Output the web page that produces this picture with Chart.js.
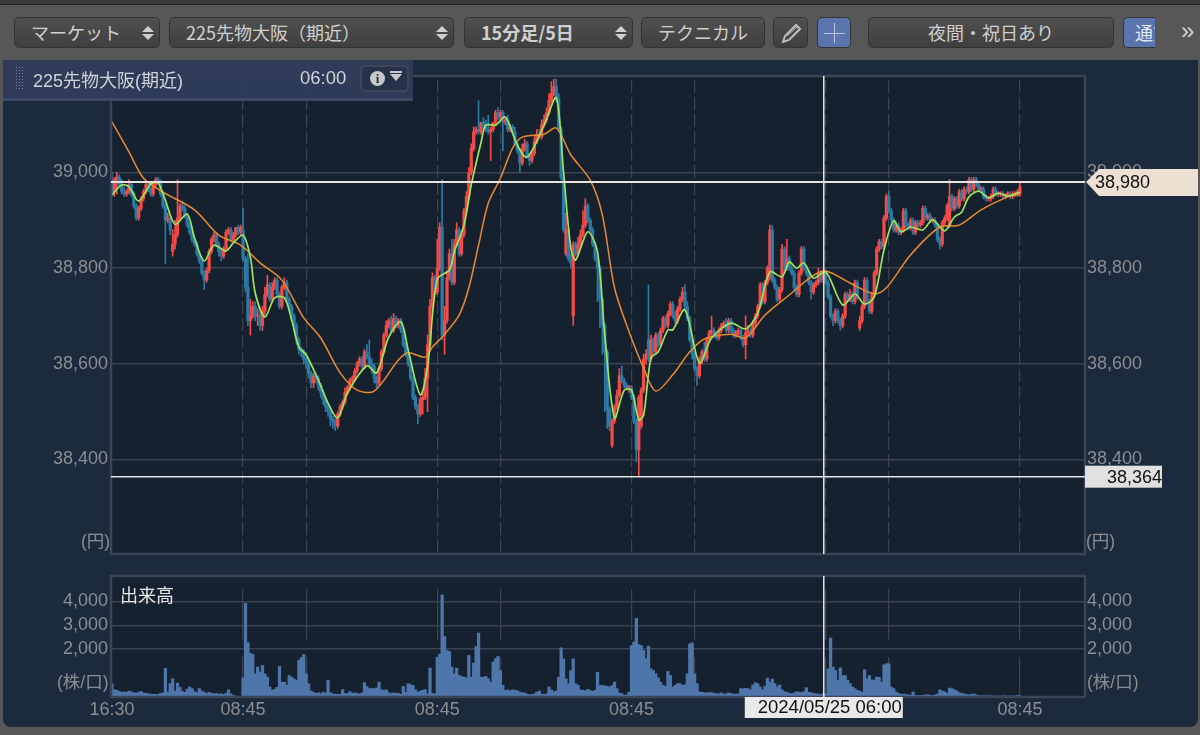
<!DOCTYPE html>
<html lang="ja">
<head>
<meta charset="utf-8">
<title>225先物大阪(期近)</title>
<script src="https://cdn.jsdelivr.net/npm/chart.js@4/dist/chart.umd.min.js"></script>
<style>
  html, body { margin: 0; padding: 0; background: #575757; }
  body { position: relative; width: 1200px; height: 735px; overflow: hidden;
         font-family: "Liberation Sans", "Noto Sans CJK JP", sans-serif; color: #d2d2d2; }
  .topline { position: absolute; left: 0; top: 0; width: 1200px; height: 4px; background: #3c3c3c; border-bottom: 1px solid #222; }
  .panel { position: absolute; left: 3px; top: 60px; width: 1195px; height: 667px; background: #1c2a3e; border-radius: 0 0 8px 8px; }
  canvas { position: absolute; left: 0; }
  #priceChart { top: 60px; }
  #volumeChart { top: 560px; }
  .btn { position: absolute; top: 17px; height: 31px; line-height: 29px; box-sizing: border-box; border: 1px solid #343434;
         border-radius: 5px; background: linear-gradient(#505050, #3f3f3f); font-size: 18px; text-align: center;
         color: #cfcfcf; font-family: "Noto Sans CJK JP", sans-serif; white-space: nowrap; overflow: hidden; }
  .btn.left { text-align: left; padding-left: 16px; }
  .btn.on { background: #5a75ad; color: #e4e8f2; }
  .updown { position: absolute; right: 5px; top: 8px; width: 0; height: 0; border-left: 6px solid transparent; border-right: 6px solid transparent; border-bottom: 6px solid #cfcfcf; }
  .updown::after { content: ""; position: absolute; left: -6px; top: 8px; width: 0; height: 0; border-left: 6px solid transparent; border-right: 6px solid transparent; border-top: 6px solid #cfcfcf; }
  .info { position: absolute; left: 3px; top: 60px; width: 410px; height: 41px; background: rgba(48,60,90,.96); border-bottom: 3px solid #3d4966; box-sizing: border-box; font-size: 18px; color: #cfd2d8; }
  .grip { position: absolute; left: 12px; top: 6px; width: 8px; height: 25px; background-image: radial-gradient(#7a8296 1px, transparent 1px); background-size: 3px 3px; }
  .info .name { position: absolute; left: 30px; top: 6px; }
  .info .time { position: absolute; left: 297px; top: 7px; font-size: 18.5px; }
  .info .menu { position: absolute; left: 357px; top: 5px; width: 49px; height: 27px; box-sizing: border-box; background: #27314c; border: 2px solid #3e4658; border-radius: 5px; }
  .info .i { position: absolute; left: 8px; top: 4px; width: 15px; height: 15px; border-radius: 50%; background: #c9c9c9; color: #27314c; font: bold 13px/15px "Liberation Serif", serif; text-align: center; }
  .info .tri { position: absolute; left: 28px; top: 7px; width: 0; height: 0; border-left: 6px solid transparent; border-right: 6px solid transparent; border-top: 7px solid #c9c9c9; }
  .info .tri::before { content: ""; position: absolute; left: -6px; top: -10px; width: 12px; height: 2px; background: #c9c9c9; }
  .chev { position: absolute; left: 1181px; top: 17px; font-size: 24px; color: #d2d2d2; }
  .axis-note { position: absolute; font-size: 17.5px; color: #8b8d90; }
  .vol-title { position: absolute; left: 120px; top: 581px; font-size: 18px; color: #e8e8e8; font-family: "Noto Sans CJK JP", sans-serif; line-height: 26px; }
  .plusv, .plush { position: absolute; background: #b9c6df; }
  .plusv { left: 16px; top: 5px; width: 1px; height: 20px; }
  .plush { left: 6px; top: 15px; width: 21px; height: 1px; }
</style>
</head>
<body>
<div class="topline"></div>
<div class="btn left" style="left:14px;width:146px">マーケット<span class="updown"></span></div>
<div class="btn left" style="left:169px;width:285px">225先物大阪（期近）<span class="updown"></span></div>
<div class="btn left" style="left:464px;width:169px;font-weight:bold">15分足/5日<span class="updown"></span></div>
<div class="btn" style="left:641px;width:124px">テクニカル</div>
<div class="btn" style="left:773px;width:35px"><svg width="24" height="24" viewBox="0 0 24 24" style="margin-top:3px"><path d="M4 21l2-6L17 4l4 4L10 19z" fill="none" stroke="#bdbdbd" stroke-width="2"/><path d="M8 15L18 6M11 17L20 8" stroke="#bdbdbd"/></svg></div>
<div class="btn on" style="left:817px;width:34px"><span class="plusv"></span><span class="plush"></span></div>
<div class="btn" style="left:868px;width:246px">夜間・祝日あり</div>
<div class="btn on" style="left:1123px;width:32px;border-radius:5px 0 0 5px;border-right:0;text-align:left;padding-left:11px">通貨</div>
<div class="chev">»</div>
<div class="panel"></div>
<canvas id="priceChart" width="1200" height="520"></canvas>
<canvas id="volumeChart" width="1200" height="175"></canvas>
<div class="info">
  <div class="grip"></div>
  <div class="name">225先物大阪(期近)</div>
  <div class="time">06:00</div>
  <div class="menu"><span class="i">i</span><span class="tri"></span></div>
</div>
<div class="axis-note" style="left:81px;top:527px">(円)</div>
<div class="axis-note" style="left:1086px;top:527px">(円)</div>
<div class="axis-note" style="left:57px;top:668px">(株/口)</div>
<div class="axis-note" style="left:1087px;top:668px">(株/口)</div>
<div class="vol-title">出来高</div>
<script>
// 15 minute bars, 5 sessions
const opens = [
  38985,38960,38985,38990,38975,38960,38955,38960,38975,38955,
  38930,38905,38925,38945,38960,38975,38965,38955,38975,38985,
  38980,38955,38930,38900,38905,38835,38850,38870,38905,38930,
  38925,38910,38890,38875,38860,38850,38830,38815,38790,38775,
  38795,38835,38860,38870,38850,38835,38825,38840,38875,38880,
  38860,38870,38885,38875,38880,38820,38760,38690,38700,38720,
  38700,38700,38680,38710,38745,38765,38735,38760,38775,38745,
  38720,38760,38770,38735,38720,38700,38680,38650,38630,38625,
  38610,38600,38580,38560,38575,38570,38555,38540,38525,38510,
  38500,38485,38480,38470,38495,38510,38520,38540,38550,38565,
  38570,38585,38600,38610,38595,38625,38615,38600,38595,38570,
  38560,38590,38625,38660,38680,38690,38670,38695,38680,38690,
  38670,38640,38620,38600,38570,38530,38510,38495,38525,38530,
  38570,38640,38720,38780,38750,38800,38885,38660,38690,38780,
  38830,38770,38850,38880,38830,38870,38920,38950,39000,39050,
  39085,39090,39085,39105,39095,39090,39085,39090,39105,39125,
  39115,39125,39105,39110,39090,39095,39085,39060,39045,39020,
  39050,39060,39035,39025,39040,39065,39080,39075,39100,39110,
  39125,39150,39165,39180,39155,39090,38990,38830,38880,38820,
  38700,38850,38830,38850,38870,38890,38930,38900,38880,38850,
  38820,38800,38735,38680,38625,38505,38430,38480,38510,38535,
  38575,38565,38555,38550,38550,38530,38480,38420,38470,38545,
  38610,38650,38610,38650,38625,38660,38640,38670,38695,38680,
  38705,38725,38700,38690,38715,38735,38750,38720,38695,38650,
  38620,38590,38575,38610,38625,38610,38650,38665,38670,38660,
  38655,38670,38680,38685,38670,38690,38670,38660,38665,38670,
  38655,38640,38665,38670,38660,38685,38700,38720,38765,38730,
  38770,38780,38880,38775,38760,38735,38755,38840,38800,38820,
  38800,38790,38760,38745,38790,38840,38800,38790,38770,38750,
  38765,38770,38790,38775,38790,38770,38740,38700,38690,38710,
  38690,38680,38700,38745,38735,38745,38730,38770,38675,38690,
  38720,38775,38730,38710,38745,38790,38840,38855,38845,38905,
  38950,38920,38900,38880,38890,38875,38880,38920,38890,38885,
  38900,38875,38895,38890,38895,38925,38905,38910,38900,38900,
  38890,38860,38850,38895,38905,38890,38950,38925,38945,38930,
  38960,38945,38965,38960,38985,38965,38985,38975,38965,38965,
  38950,38945,38945,38950,38965,38955,38955,38955,38950,38955,
  38955,38950,38955,38955,38955
];
const highs = [
  39000,38990,39000,38995,38985,38970,38965,38985,38980,38960,
  38935,38930,38950,38965,38980,38980,38970,38980,38990,38990,
  38985,38960,38935,38915,38910,38880,38900,38985,38935,38940,
  38930,38915,38895,38880,38865,38855,38835,38820,38795,38800,
  38840,38865,38875,38875,38855,38840,38845,38880,38885,38885,
  38875,38885,38890,38890,38925,38825,38830,38735,38730,38730,
  38715,38710,38720,38760,38785,38770,38770,38780,38780,38750,
  38765,38780,38775,38740,38725,38705,38685,38655,38635,38630,
  38615,38605,38585,38580,38580,38575,38560,38545,38530,38515,
  38505,38490,38485,38500,38515,38525,38550,38555,38570,38575,
  38590,38605,38615,38615,38630,38640,38650,38610,38600,38575,
  38595,38630,38665,38690,38695,38700,38705,38700,38695,38695,
  38675,38645,38625,38605,38575,38535,38515,38530,38545,38590,
  38660,38735,38790,38785,38860,38895,38985,38720,38795,38840,
  38860,38860,38895,38885,38880,38925,38960,39010,39060,39095,
  39095,39150,39105,39115,39110,39120,39095,39105,39130,39135,
  39130,39130,39115,39120,39100,39100,39095,39065,39050,39060,
  39070,39065,39040,39045,39075,39090,39090,39110,39120,39135,
  39165,39190,39195,39195,39165,39095,38995,38915,38885,38830,
  38855,38855,38865,38880,38920,38945,38935,38905,38885,38855,
  38825,38805,38740,38685,38630,38510,38485,38515,38545,38590,
  38595,38570,38560,38555,38555,38535,38485,38535,38550,38620,
  38630,38765,38660,38655,38665,38665,38675,38700,38700,38710,
  38730,38730,38710,38720,38740,38760,38765,38730,38700,38655,
  38625,38595,38615,38630,38645,38655,38670,38700,38675,38665,
  38675,38685,38690,38695,38695,38695,38675,38670,38675,38675,
  38660,38700,38680,38675,38690,38705,38725,38770,38770,38775,
  38805,38890,38890,38780,38765,38760,38850,38845,38860,38825,
  38805,38795,38765,38795,38845,38845,38805,38795,38775,38770,
  38775,38800,38795,38795,38795,38775,38745,38705,38715,38715,
  38695,38705,38750,38750,38755,38750,38775,38775,38700,38725,
  38780,38780,38735,38750,38795,38845,38860,38860,38910,38955,
  38960,38925,38905,38895,38895,38885,38925,38925,38895,38905,
  38905,38900,38900,38900,38930,38930,38915,38915,38905,38905,
  38895,38865,38900,38910,38935,38985,38955,38950,38950,38965,
  38965,38970,38970,38990,38990,38990,38990,38980,38970,38970,
  38955,38950,38955,38970,38970,38960,38960,38960,38955,38960,
  38960,38960,38960,38965,38980
];
const lows = [
  38950,38950,38955,38970,38955,38950,38950,38955,38950,38925,
  38900,38900,38920,38940,38955,38960,38950,38950,38970,38975,
  38950,38925,38810,38895,38870,38825,38840,38865,38900,38920,
  38905,38885,38870,38855,38845,38825,38810,38785,38755,38770,
  38790,38830,38855,38845,38825,38815,38820,38835,38870,38855,
  38855,38865,38870,38870,38815,38750,38680,38660,38695,38690,
  38680,38670,38670,38700,38740,38730,38730,38755,38740,38715,
  38715,38755,38730,38715,38690,38670,38640,38620,38615,38600,
  38590,38570,38550,38550,38560,38545,38530,38515,38500,38490,
  38470,38465,38460,38465,38490,38505,38515,38535,38545,38560,
  38565,38580,38595,38590,38590,38610,38595,38580,38560,38550,
  38555,38585,38620,38655,38675,38665,38665,38675,38675,38665,
  38635,38615,38595,38565,38525,38505,38475,38490,38495,38525,
  38500,38635,38715,38745,38745,38795,38650,38620,38685,38775,
  38765,38765,38845,38825,38825,38865,38915,38945,38995,39045,
  39080,39080,39080,39090,39085,39080,39025,39085,39100,39110,
  39110,39045,39100,39085,39085,39080,39055,39040,39000,39015,
  39045,39030,39015,39020,39035,39060,39070,39070,39095,39105,
  39120,39145,39160,39150,39085,38985,38875,38825,38815,38800,
  38680,38825,38825,38845,38865,38885,38895,38875,38845,38815,
  38730,38675,38620,38500,38465,38460,38425,38475,38505,38530,
  38560,38550,38545,38540,38525,38475,38395,38364,38465,38540,
  38600,38605,38605,38620,38620,38635,38635,38665,38675,38675,
  38700,38695,38685,38685,38710,38730,38715,38690,38645,38610,
  38585,38555,38570,38600,38605,38605,38645,38660,38655,38650,
  38650,38665,38675,38665,38665,38665,38655,38655,38660,38650,
  38635,38610,38660,38655,38655,38680,38695,38715,38725,38725,
  38765,38775,38770,38755,38730,38730,38750,38795,38795,38795,
  38785,38755,38740,38740,38785,38795,38785,38765,38735,38745,
  38760,38765,38770,38770,38765,38735,38695,38680,38685,38685,
  38670,38675,38695,38730,38730,38725,38725,38735,38670,38685,
  38715,38725,38705,38705,38740,38785,38835,38840,38840,38900,
  38915,38895,38875,38875,38870,38870,38875,38885,38880,38880,
  38870,38870,38885,38885,38890,38900,38900,38895,38895,38885,
  38855,38840,38845,38890,38900,38885,38920,38920,38925,38925,
  38940,38940,38955,38955,38960,38960,38970,38960,38960,38945,
  38940,38940,38940,38945,38950,38950,38950,38945,38945,38950,
  38945,38945,38950,38950,38950
];
const closes = [
  38960,38985,38990,38975,38960,38955,38960,38975,38955,38930,
  38905,38925,38945,38960,38975,38965,38955,38975,38985,38980,
  38955,38930,38900,38905,38880,38850,38870,38905,38930,38925,
  38910,38890,38875,38860,38850,38830,38815,38790,38775,38795,
  38835,38860,38870,38850,38835,38825,38840,38875,38880,38860,
  38870,38885,38875,38885,38820,38760,38690,38700,38720,38700,
  38700,38680,38710,38745,38765,38735,38760,38775,38745,38720,
  38760,38770,38735,38720,38700,38680,38650,38630,38625,38610,
  38600,38580,38560,38575,38570,38555,38540,38525,38510,38500,
  38485,38480,38470,38495,38510,38520,38540,38550,38565,38570,
  38585,38600,38610,38595,38625,38615,38600,38595,38570,38560,
  38590,38625,38660,38680,38690,38670,38695,38680,38690,38670,
  38640,38620,38600,38570,38530,38510,38495,38525,38530,38570,
  38640,38720,38780,38750,38800,38885,38660,38690,38780,38830,
  38770,38850,38880,38830,38870,38920,38950,39000,39050,39085,
  39090,39085,39105,39095,39090,39085,39090,39105,39125,39115,
  39125,39105,39110,39090,39095,39085,39060,39045,39020,39050,
  39060,39035,39025,39040,39065,39080,39075,39100,39110,39125,
  39150,39165,39180,39155,39090,38990,38880,38880,38820,38810,
  38850,38830,38850,38870,38890,38930,38900,38880,38850,38820,
  38800,38735,38680,38625,38505,38470,38480,38510,38535,38575,
  38565,38555,38550,38550,38530,38480,38420,38530,38545,38610,
  38620,38610,38650,38625,38660,38640,38670,38695,38680,38705,
  38725,38700,38690,38715,38735,38750,38720,38695,38650,38620,
  38590,38575,38610,38625,38610,38650,38665,38670,38660,38655,
  38670,38680,38685,38670,38690,38670,38660,38665,38670,38655,
  38640,38665,38670,38660,38685,38700,38720,38765,38730,38770,
  38800,38880,38775,38760,38735,38755,38840,38800,38820,38800,
  38790,38760,38745,38790,38840,38800,38790,38770,38750,38765,
  38770,38790,38775,38790,38770,38740,38700,38690,38710,38690,
  38680,38700,38745,38735,38745,38730,38770,38740,38690,38720,
  38775,38730,38710,38745,38790,38840,38855,38845,38905,38950,
  38920,38900,38880,38890,38875,38880,38920,38890,38885,38900,
  38875,38895,38890,38895,38925,38905,38910,38900,38900,38890,
  38860,38850,38895,38905,38930,38950,38925,38945,38930,38960,
  38945,38965,38960,38985,38965,38985,38975,38965,38965,38950,
  38945,38945,38950,38965,38955,38955,38955,38950,38955,38955,
  38950,38955,38955,38960,38970
];
const volumes = [
  550,300,280,230,200,210,190,250,220,180,
  160,200,230,170,150,130,120,110,110,100,
  150,170,1200,200,560,760,250,580,400,230,
  200,330,420,350,220,180,350,250,200,150,
  190,160,130,150,120,130,110,150,300,130,
  60,40,30,30,800,3920,2270,1830,1780,970,
  1250,1040,1320,970,830,420,280,320,400,1280,
  620,620,500,900,830,760,700,1530,1650,1780,
  970,550,250,200,150,180,140,200,170,700,
  180,130,120,110,110,310,150,140,220,160,
  170,150,130,170,600,430,350,360,340,380,
  625,300,280,300,180,150,170,160,150,120,
  445,200,556,520,485,300,200,240,280,310,
  130,1210,150,130,1670,1800,4280,2530,1950,1900,
  1250,970,1210,900,860,830,800,1740,830,1420,
  2110,2680,830,830,860,760,620,1460,1600,1700,
  1110,490,280,300,250,300,280,260,200,180,
  170,120,100,110,130,200,250,120,110,130,
  420,300,220,250,830,2060,1600,760,560,1110,
  1600,560,490,300,280,250,320,270,240,280,
  1040,490,480,470,450,420,480,625,350,160,
  140,70,90,200,2150,2300,3290,2200,2150,1950,
  1600,2130,1180,1110,970,800,620,490,450,1070,
  900,420,490,560,560,490,520,970,2220,2270,
  970,560,210,200,180,170,190,180,150,140,
  130,170,120,130,170,150,110,130,120,350,
  340,360,350,300,500,600,560,420,300,450,
  790,620,750,560,420,500,300,220,200,150,
  140,170,220,200,180,220,390,200,180,150,
  130,120,100,140,130,1180,2470,1250,1110,700,
  1220,900,900,700,560,420,350,280,250,200,
  1140,760,900,720,700,830,830,620,1350,1390,
  1390,420,350,210,150,110,120,100,90,80,
  210,70,60,60,70,80,100,70,60,80,
  120,300,250,220,150,375,350,300,250,180,
  150,130,100,90,110,130,80,60,50,60,
  50,50,50,40,40,40,40,50,50,40,
  40,50,40,70,60
];

// moving averages, read at the bars where the curve turns
const fastBars = [0,4,7,11,16,19,22,26,31,34,38,42,47,50,54,57,59,63,67,71,74,77,80,85,89,93,97,105,109,114,119,122,127,130,134,139,141,145,148,152,154,158,162,167,171,178,183,186,189,191,196,200,203,207,211,214,217,219,222,225,229,231,236,242,247,255,261,266,271,276,279,282,285,289,294,301,306,310,314,318,322,325,329,334,338,343,347,350,353,357,361,365,369,374];
const fastValues = [38953,38974,38970,38940,38976,38978,38942,38892,38913,38863,38815,38848,38836,38853,38869,38823,38748,38698,38738,38738,38692,38635,38619,38566,38518,38487,38539,38596,38581,38656,38688,38629,38535,38594,38777,38796,38834,38890,38974,39062,39099,39099,39116,39057,39032,39099,39156,39001,38842,38817,38876,38834,38660,38487,38545,38545,38483,38493,38612,38625,38671,38671,38713,38602,38654,38685,38673,38706,38792,38782,38813,38800,38811,38779,38792,38723,38746,38725,38740,38838,38899,38876,38886,38880,38901,38878,38907,38917,38949,38961,38947,38957,38951,38959];
const slowBars = [0,7,13,21,34,44,53,61,70,79,86,94,101,108,118,122,129,132,136,143,147,151,155,160,165,169,178,183,189,197,202,207,213,219,224,231,238,244,255,261,269,280,288,294,304,314,319,329,341,349,358,368,374];
const slowValues = [39106,39043,38988,38959,38922,38869,38848,38811,38775,38696,38654,38581,38545,38543,38608,38623,38614,38635,38656,38702,38759,38848,38936,38988,39051,39074,39080,39093,39037,38984,38911,38759,38667,38591,38543,38577,38625,38652,38662,38654,38702,38748,38782,38794,38769,38746,38759,38828,38886,38890,38922,38947,38955];

const priceTicks = [38400, 38600, 38800, 39000];
const volumeTicks = [2000, 3000, 4000];
const timeSlots = [0, 54, 80, 134, 160, 214, 240, 294, 320, 374];
const timeLabels = ["16:30", "08:45", "", "08:45", "", "08:45", "", "08:45", "", "08:45"];

const periodHigh = 38980;
const periodLow = 38364;
const cursorBar = 293.2;
const cursorLabel = "2024/05/25 06:00";

const RED = "#f44b47", BLUE = "#2b7ba6", GREEN = "#9de35c", ORANGE = "#e98a2c";
const GRID = "#3c4350", FRAME = "#3b4555", TEXT = "#8b8d90", PLOT = "#162130";
const FONT = { family: '"Liberation Sans", sans-serif', size: 18 };
const num = (v) => v.toLocaleString("en-US");

const candleColors = closes.map((c, i) => (c >= opens[i] ? RED : BLUE));

function xAxis(dash, offset, showLabels, height) {
  return {
    type: "linear",
    offset: false,
    min: -0.4,
    max: 400.8,
    afterBuildTicks: (s) => { s.ticks = timeSlots.map((v) => ({ value: v })); },
    afterFit: (s) => { s.height = height; },
    grid: {
      offset: false,
      color: (c) => (c.tick && c.tick.value === 0 ? "transparent" : GRID),
      lineWidth: 1.2,
      drawTicks: false,
    },
    border: { display: false, dash: dash, dashOffset: offset },
    ticks: {
      display: showLabels,
      autoSkip: false,
      maxRotation: 0,
      color: TEXT,
      font: FONT,
      padding: 2,
      callback: (v) => timeLabels[timeSlots.indexOf(v)],
    },
  };
}

function yAxes(min, max, tickValues) {
  const base = {
    type: "linear",
    min: min,
    max: max,
    afterBuildTicks: (s) => { s.ticks = tickValues.map((v) => ({ value: v })); },
    border: { display: false },
    ticks: { color: TEXT, font: FONT, callback: num, autoSkip: false },
  };
  return {
    y: { ...base, position: "left", afterFit: (s) => { s.width = 111; },
         grid: { color: GRID, lineWidth: 1.5, drawTicks: false }, ticks: { ...base.ticks, padding: 3 } },
    yRight: { ...base, position: "right", afterFit: (s) => { s.width = 115; },
         grid: { display: false, drawTicks: false }, ticks: { ...base.ticks, padding: 2 } },
  };
}

// fills the plot and draws its frame and the cross cursor
const plotFrame = {
  id: "plotFrame",
  beforeDraw(chart) {
    const a = chart.chartArea, ctx = chart.ctx;
    ctx.fillStyle = PLOT;
    ctx.fillRect(a.left, a.top, a.width, a.height);
  },
  afterDraw(chart) {
    const a = chart.chartArea, ctx = chart.ctx;
    ctx.save();
    ctx.strokeStyle = FRAME;
    ctx.lineWidth = 2.5;
    ctx.strokeRect(a.left, a.top, a.width, a.height);
    const x = chart.scales.x.getPixelForValue(cursorBar);
    ctx.strokeStyle = "#e6e6e6";
    ctx.lineWidth = 1.5;
    ctx.beginPath();
    ctx.moveTo(x, a.top);
    ctx.lineTo(x, a.bottom);
    ctx.stroke();
    ctx.restore();
  },
};

const priceMarks = {
  id: "priceMarks",
  afterDraw(chart) {
    const a = chart.chartArea, ctx = chart.ctx, y = chart.scales.y;
    const hi = y.getPixelForValue(periodHigh), lo = y.getPixelForValue(periodLow);
    ctx.save();
    ctx.strokeStyle = "#e8e4dc";
    ctx.lineWidth = 2;
    ctx.beginPath(); ctx.moveTo(a.left, hi); ctx.lineTo(a.right, hi); ctx.stroke();
    ctx.strokeStyle = "#e4e4e4";
    ctx.lineWidth = 1.6;
    ctx.beginPath(); ctx.moveTo(a.left, lo); ctx.lineTo(a.right, lo); ctx.stroke();

    ctx.fillStyle = "#ebe0d2";
    ctx.beginPath();
    ctx.moveTo(a.right + 1, hi);
    ctx.lineTo(a.right + 14, hi - 13);
    ctx.lineTo(1198, hi - 13);
    ctx.lineTo(1198, hi + 14);
    ctx.lineTo(a.right + 14, hi + 14);
    ctx.closePath();
    ctx.fill();
    ctx.fillStyle = "#e0e0e0";
    ctx.fillRect(a.right, lo - 11, 77, 22);

    ctx.fillStyle = "#111";
    ctx.font = '18px "Liberation Sans", sans-serif';
    ctx.textBaseline = "middle";
    ctx.textAlign = "left";
    ctx.fillText(num(periodHigh), a.right + 10, hi + 1);
    ctx.textAlign = "right";
    ctx.fillText(num(periodLow), a.right + 77, lo + 1);
    ctx.restore();
  },
};

const cursorTag = {
  id: "cursorTag",
  afterDraw(chart) {
    const a = chart.chartArea, ctx = chart.ctx;
    const x = chart.scales.x.getPixelForValue(cursorBar);
    ctx.save();
    ctx.fillStyle = "#e8e8e8";
    ctx.fillRect(x - 79, a.bottom, 158, 21);
    ctx.fillStyle = "#111";
    ctx.font = '18.5px "Liberation Sans", sans-serif';
    ctx.textAlign = "right";
    ctx.textBaseline = "middle";
    ctx.fillText(cursorLabel, x + 78, a.bottom + 11);
    ctx.restore();
  },
};

const barIndex = closes.map((_, i) => i);
const common = {
  responsive: false,
  animation: false,
  events: [],
  plugins: { legend: { display: false }, tooltip: { enabled: false } },
};

new Chart(document.getElementById("priceChart"), {
  type: "bar",
  plugins: [plotFrame, priceMarks],
  data: {
    datasets: [
      {
        type: "line",
        data: fastBars.map((b, i) => ({ x: b, y: fastValues[i] })),
        borderColor: GREEN, borderWidth: 1.7, pointRadius: 0, tension: 0.3, order: 0,
      },
      {
        type: "line",
        data: slowBars.map((b, i) => ({ x: b, y: slowValues[i] })),
        borderColor: ORANGE, borderWidth: 1.5, pointRadius: 0, tension: 0.3, order: 1,
      },
      {
        data: barIndex.map((i) => ({ x: i, y: [opens[i], closes[i]] })),
        backgroundColor: candleColors, barThickness: 2.6, minBarLength: 1, grouped: false, order: 2,
      },
      {
        data: barIndex.map((i) => ({ x: i, y: [lows[i], highs[i]] })),
        backgroundColor: candleColors, barThickness: 1, grouped: false, order: 3,
      },
    ],
  },
  options: {
    ...common,
    layout: { padding: { top: 16, bottom: 26 } },
    scales: {
      x: xAxis([13, 4], 13, false, 0),
      ...yAxes(38202.4, 39201.7, priceTicks),
    },
  },
});

new Chart(document.getElementById("volumeChart"), {
  type: "bar",
  plugins: [plotFrame, cursorTag],
  data: {
    datasets: [
      {
        data: barIndex.map((i) => ({ x: i, y: volumes[i] })),
        backgroundColor: "#4f76ab", barThickness: 2.6, grouped: false,
      },
    ],
  },
  options: {
    ...common,
    layout: { padding: { top: 16 } },
    scales: {
      x: xAxis([51, 17], 55, true, 38),
      ...yAxes(0, 5068, volumeTicks),
    },
  },
});
</script>
</body>
</html>
